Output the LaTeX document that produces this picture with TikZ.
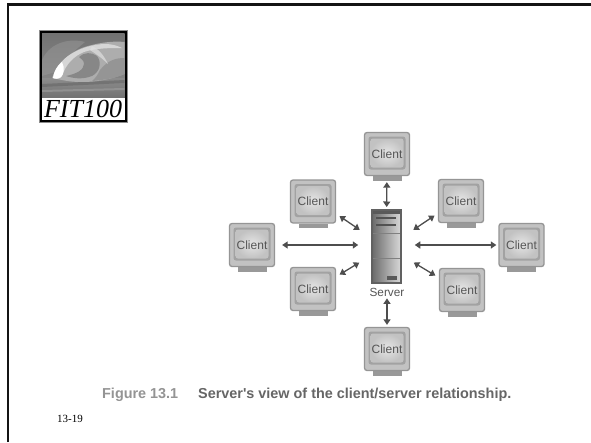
\documentclass[tikz,border=0pt]{standalone}
\usepackage{fontspec}
\setmainfont{Liberation Serif}
\newfontfamily\figfont{Liberation Sans}
\usetikzlibrary{arrows.meta,calc}
\definecolor{mbody}{HTML}{C2C2C2}
\definecolor{medge}{HTML}{959595}
\definecolor{mframe}{HTML}{A2A2A2}
\definecolor{mtext}{HTML}{555555}
\definecolor{arrowc}{HTML}{4E4E4E}
\tikzset{
  x=1pt,y=-1pt,
  client/.style={draw=medge,line width=1.3pt,rounded corners=2.5pt,fill=mbody,minimum width=45pt,minimum height=43pt,inner sep=0pt,text=mtext,font=\figfont\fontsize{12}{14}\selectfont,
    path picture={
      \fill[mframe] ($(path picture bounding box.north west)+(4pt,-4pt)$) rectangle ($(path picture bounding box.south east)+(-4pt,6pt)$);
      \shade[inner color=black!10,outer color=black!24] ($(path picture bounding box.north west)+(6pt,-6pt)$) rectangle ($(path picture bounding box.south east)+(-6pt,8pt)$);
    }},
  base/.style={fill=black!40,draw=none},
  link/.style={draw=arrowc,line width=1.3pt,{Triangle[width=7pt,length=5.5pt]}-{Triangle[width=7pt,length=5.5pt]}},
}
\newcommand{\monitor}[3]{%
  \fill[base] (#2-14.5,#3+22) -- (#2+14.5,#3+22) -- (#2+14.5,#3+26.5) -- (#2-14.5,#3+26.5) -- cycle;
  \node[client] (#1) at (#2,#3) {Client};
}
\begin{document}
\begin{tikzpicture}
\useasboundingbox (0,0) rectangle (591,442);
\fill[white] (0,0) rectangle (591,442);
\draw[line width=2.4pt,black!92] (8,442) -- (8,4.5) -- (591,4.5);
% logo
\fill[black!45] (38.5,30) rectangle (128,123);
\fill[black] (39.5,31) rectangle (127,122);
\shade[top color=black!55,bottom color=black!45] (42,33.5) rectangle (124.5,97);
% clouds
\fill[black!40,opacity=.5] (42,60) .. controls (50,42) and (70,38) .. (85,42) .. controls (75,50) and (62,62) .. (55,72) -- (42,76) -- cycle;
% sea
\shade[top color=black!45,bottom color=black!55] (42,78) rectangle (124.5,97);
\fill[black!62,opacity=.5] (42,84) -- (124.5,80) -- (124.5,83) -- (42,87) -- cycle;
\fill[black!35,opacity=.5] (42,90) -- (124.5,88) -- (124.5,90) -- (42,92) -- cycle;
% wave body
\fill[black!32] (52,78) .. controls (58,62) and (72,50) .. (88,46) .. controls (102,42) and (115,41) .. (124.5,42) -- (124.5,74) .. controls (105,82) and (80,84) .. (62,80) -- cycle;
\fill[black!45,opacity=.7] (100,70) .. controls (108,60) and (116,58) .. (124.5,58) -- (124.5,74) .. controls (115,78) and (105,80) .. (92,81) .. controls (96,78) and (98,74) .. (100,70) -- cycle;
% swirl
\fill[black!47] (79,57) .. controls (84,52) and (92,52) .. (97,56) .. controls (102,62) and (100,72) .. (92,76) .. controls (82,80) and (72,78) .. (66,76) .. controls (76,74) and (84,70) .. (84,64) .. controls (84,60) and (81,59) .. (79,57) -- cycle;
% crest
\fill[black!16] (53,78) .. controls (54,70) and (60,62) .. (68,56) .. controls (78,49) and (92,44) .. (106,44) .. controls (112,44) and (118,46) .. (122,48) .. controls (110,48) and (96,48) .. (84,52) .. controls (74,56) and (66,64) .. (62,76) .. controls (60,79) and (56,80) .. (53,78) -- cycle;
\fill[white] (53,78) .. controls (54,71) and (57,66) .. (62,62) .. controls (65,68) and (64,74) .. (61,77) .. controls (58,79) and (55,79) .. (53,78) -- cycle;
\fill[black!12,opacity=.7] (92,46) .. controls (100,50) and (104,56) .. (108,64) .. controls (102,58) and (96,54) .. (90,50) -- cycle;
\fill[white] (42,98) rectangle (124.5,120);
\node[inner sep=0pt,font=\fontsize{26}{26}\selectfont\itshape] (logo) at (83,109) {FIT100};
% monitors
\monitor{cT}{387}{154}
\monitor{cUL}{313}{201.5}
\monitor{cUR}{461}{201}
\monitor{cL}{252}{245}
\monitor{cR}{521.5}{245}
\monitor{cLL}{313}{289}
\monitor{cLR}{462}{290}
\monitor{cB}{387}{349}
% server
\node[draw=black!62,line width=2pt,minimum width=28.5pt,minimum height=73pt,inner sep=0pt,left color=black!58,right color=black!15] (srv) at (386.5,246.5) {};
\fill[black!65] (373,211) rectangle (400,214);
\fill[black!68] (376,217) rectangle (396,219);
\fill[black!68] (376,224) rectangle (396,226);
\draw[black!50,line width=.9pt] (373,233) -- (400,233);
\draw[black!50,line width=.9pt] (373,258.5) -- (400,258.5);
\fill[black!65] (387,276) rectangle (397,279.5);
\node[inner sep=0pt,text=mtext,font=\figfont\fontsize{11.8}{14}\selectfont] (srvlabel) at (387,292) {Server};
% links
\draw[link,shorten <=6pt,shorten >=2pt] (cT) -- (srv);
\draw[link,shorten <=2pt,shorten >=2pt] (srvlabel) -- (cB);
\draw[link,shorten <=7pt,shorten >=13pt] (cL.east) -- (srv.west |- cL.east);
\draw[link,shorten <=13pt,shorten >=2pt] (srv.east |- cR.west) -- (cR.west);
\draw[link,shorten <=4pt,shorten >=14pt] (cUL.-28) -- (srv.150);
\draw[link,shorten <=4pt,shorten >=14pt] (cLL.28) -- (srv.210);
\draw[link,shorten <=4pt,shorten >=14pt] (cUR.208) -- (srv.30);
\draw[link,shorten <=4pt,shorten >=14pt] (cLR.152) -- (srv.-30);
% caption
\node[anchor=base west,inner sep=0pt,font=\figfont\bfseries\fontsize{14.4}{16}\selectfont,text=black!42] (figno) at (102,398) {Figure 13.1};
\node[anchor=base west,inner sep=0pt,font=\figfont\bfseries\fontsize{14.4}{16}\selectfont,text=black!60] (figcap) at (198,398) {Server's view of the client/server relationship.};
\node[anchor=base west,inner sep=0pt,font=\fontsize{11}{13}\selectfont] (pageno) at (57,422) {13-19};
\end{tikzpicture}
\end{document}
